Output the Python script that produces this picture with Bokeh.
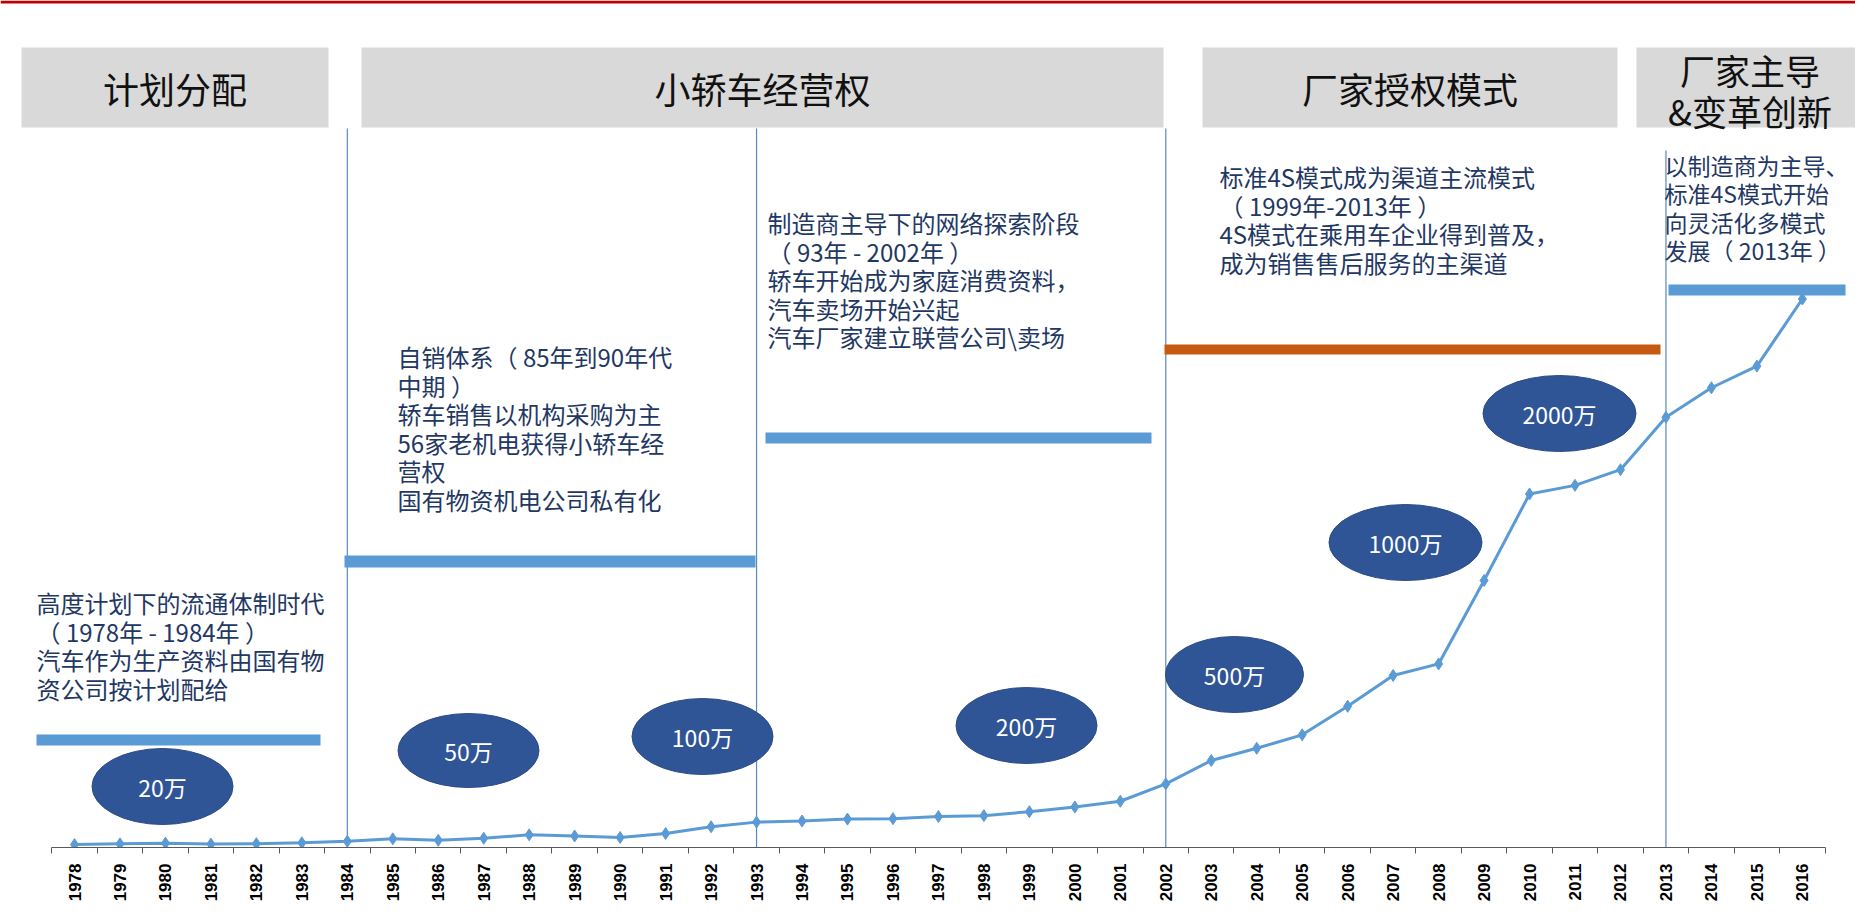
import math
from bokeh.plotting import figure
from bokeh.models import Range1d, FixedTicker
from bokeh.core.properties import value
from bokeh.embed import file_html
from bokeh.resources import INLINE

# ---------------- data ----------------
years = [1978, 1979, 1980, 1981, 1982, 1983, 1984, 1985, 1986, 1987,
         1988, 1989, 1990, 1991, 1992, 1993, 1994, 1995, 1996, 1997,
         1998, 1999, 2000, 2001, 2002, 2003, 2004, 2005, 2006, 2007,
         2008, 2009, 2010, 2011, 2012, 2013, 2014, 2015, 2016]
# sales (万辆)
sales = [14.9, 18.6, 22.2, 17.6, 19.6, 24.0, 31.6, 44.3, 36.9, 47.2,
         64.7, 58.7, 51.4, 71.4, 106.2, 129.7, 135.3, 145.3, 147.5, 158.3,
         162.8, 183.2, 207.0, 236.4, 324.8, 444.4, 507.1, 575.8, 721.6, 879.2,
         938.1, 1364.5, 1806.2, 1850.5, 1930.6, 2198.4, 2349.2, 2459.8, 2802.8]

stage_titles = [["计划分配"], ["小轿车经营权"], ["厂家授权模式"], ["厂家主导", "&变革创新"]]
divider_years = [1984, 1993, 2002, 2013]
milestone_labels = ["20万", "50万", "100万", "200万", "500万", "1000万", "2000万"]

stage_notes = [
    ["高度计划下的流通体制时代", "（ 1978年 - 1984年 ）", "汽车作为生产资料由国有物", "资公司按计划配给"],
    ["自销体系（ 85年到90年代", "中期 ）", "轿车销售以机构采购为主", "56家老机电获得小轿车经", "营权", "国有物资机电公司私有化"],
    ["制造商主导下的网络探索阶段", "（ 93年 - 2002年 ）", "轿车开始成为家庭消费资料，", "汽车卖场开始兴起", "汽车厂家建立联营公司\\卖场"],
    ["标准4S模式成为渠道主流模式", "（ 1999年-2013年 ）", "4S模式在乘用车企业得到普及，", "成为销售售后服务的主渠道"],
    ["以制造商为主导、", "标准4S模式开始", "向灵活化多模式", "发展（ 2013年 ）"],
]

# ---------------- layout (pixels) ----------------
FIG_W, FIG_H = 1855, 907
Y_AXIS = 847
BORDER_B = FIG_H - Y_AXIS
X_FIRST = 74.0      # x of first year
DX = 45.47          # px per year
KY = 0.1957         # px per 万

def dx(px):
    return years[0] + (px - X_FIRST) / DX

def dy(py):
    return (Y_AXIS - py) / KY

p = figure(width=FIG_W, height=FIG_H, output_backend="svg", toolbar_location=None,
           x_range=Range1d(dx(0), dx(FIG_W)), y_range=Range1d(dy(Y_AXIS), dy(0)),
           y_axis_location=None, min_border_left=0, min_border_right=0,
           min_border_top=0, min_border_bottom=BORDER_B)
p.outline_line_color = None
p.xgrid.visible = False
p.ygrid.visible = False
p.background_fill_color = "white"

FONT = value("Noto Sans CJK SC")

# red rule at the top
p.quad(left=[dx(0)], right=[dx(FIG_W)], top=[dy(0)], bottom=[dy(3)],
       fill_color="#C00000", line_color=None)

# header boxes
box_lr = [(21, 328), (361, 1163), (1202, 1617), (1636, 1863)]
p.quad(left=[dx(a) for a, b in box_lr], right=[dx(b) for a, b in box_lr],
       top=dy(47), bottom=dy(127), fill_color="#D9D9D9", line_color=None)
for (a, b), lines in zip(box_lr, stage_titles):
    cx = dx((a + b) / 2)
    if len(lines) == 1:
        p.text(x=[cx], y=[dy(87)], text=lines, text_font=FONT, text_font_size="36px",
               text_color="#111111", text_align="center", text_baseline="middle")
    else:
        p.text(x=[cx, cx], y=[dy(69), dy(110)], text=lines, text_font=FONT,
               text_font_size="35px", text_color="#111111", text_align="center",
               text_baseline="middle")

# vertical dividers
div_tops = [128, 128, 128, 150]
p.segment(x0=divider_years, x1=divider_years, y0=[dy(t) for t in div_tops],
          y1=[0] * len(divider_years), line_color="#5B87BF", line_width=1.2)

# stage bars
bars = [(36, 320, 734, 745, "#5B9BD5"), (344, 755, 555, 567, "#5B9BD5"),
        (765, 1151, 432, 443, "#5B9BD5"), (1164, 1660, 344, 354, "#C55A11"),
        (1668, 1845, 284, 295, "#5B9BD5")]
p.quad(left=[dx(b[0]) for b in bars], right=[dx(b[1]) for b in bars],
       top=[dy(b[2]) for b in bars], bottom=[dy(b[3]) for b in bars],
       fill_color=[b[4] for b in bars], line_color=None)

# stage notes
note_x = [36, 397, 767, 1219, 1664]
note_y0 = [602, 356, 222, 176, 164]
note_fs = ["24px", "24px", "24px", "24px", "23px"]
LH = 28.6
for nx, ny, fs, lines in zip(note_x, note_y0, note_fs, stage_notes):
    p.text(x=[dx(nx)] * len(lines), y=[dy(ny + i * LH) for i in range(len(lines))],
           text=lines, text_font=FONT, text_font_size=fs, text_color="#1F3864",
           text_align="left", text_baseline="middle")

# milestone ellipses
ell = [(162, 786, 141, 76), (468, 750, 141, 74), (702, 736, 141, 76),
       (1026, 725, 141, 76), (1234, 674, 138, 76), (1405, 542, 153, 76),
       (1559, 413, 153, 76)]
p.ellipse(x=[dx(e[0]) for e in ell], y=[dy(e[1]) for e in ell],
          width=[e[2] / DX for e in ell], height=[e[3] / KY for e in ell],
          fill_color="#2F5597", line_color="#2A4B86", line_width=1)
p.text(x=[dx(e[0]) for e in ell], y=[dy(e[1]) for e in ell], text=milestone_labels,
       text_font=FONT, text_font_size="23px", text_color="white",
       text_align="center", text_baseline="middle")

# sales line
p.line(years, sales, line_color="#5B9BD5", line_width=3)
p.scatter(years, sales, marker="diamond", size=12, fill_color="#5B9BD5",
          line_color="#5B9BD5")

# axis
ax = p.xaxis[0]
ax.ticker = FixedTicker(ticks=years, minor_ticks=[y - 0.5 for y in years] + [years[-1] + 0.5])
ax.bounds = (years[0] - 0.5, years[-1] + 0.5)
ax.major_tick_line_color = None
ax.major_tick_out = 0
ax.major_tick_in = 0
ax.minor_tick_in = 0
ax.minor_tick_out = 6
ax.minor_tick_line_color = "#595959"
ax.axis_line_color = "#595959"
ax.axis_line_width = 1
ax.major_label_orientation = math.pi / 2
ax.major_label_standoff = 10
ax.major_label_text_font = "Liberation Sans"
ax.major_label_text_font_style = "bold"
ax.major_label_text_font_size = "17px"
ax.major_label_text_color = "#000000"

open("out.html", "w").write(file_html(p, INLINE))
